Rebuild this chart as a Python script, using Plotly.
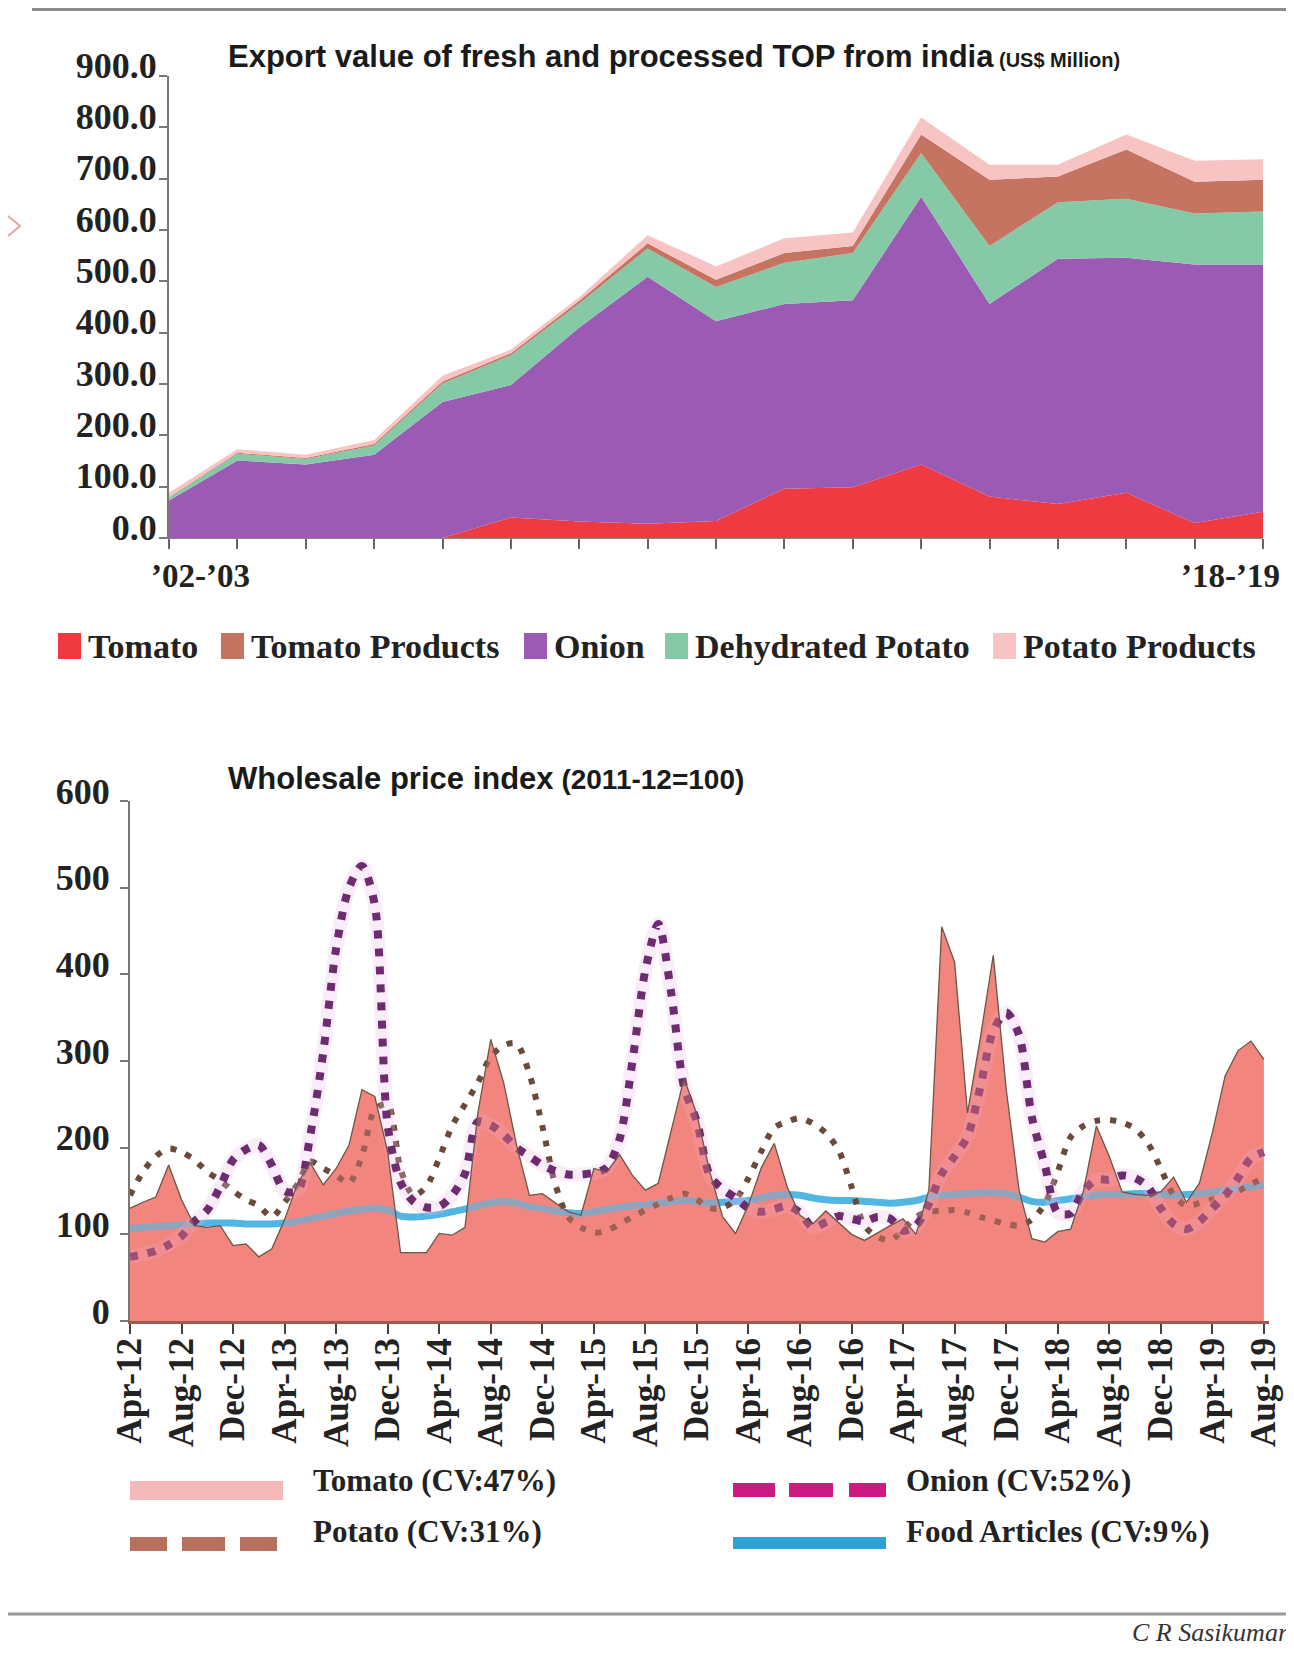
import plotly.graph_objects as go

W, H = 1294, 1653
OFF = 8  # page body margin offset
def px(x): return (x - OFF) / W
def py(y): return 1 - (y - OFF) / H

# ---------------- Top chart data (US$ Million) ----------------
years = ["’02-’03", "’03-’04", "’04-’05", "’05-’06", "’06-’07", "’07-’08", "’08-’09",
         "’09-’10", "’10-’11", "’11-’12", "’12-’13", "’13-’14", "’14-’15", "’15-’16",
         "’16-’17", "’17-’18", "’18-’19"]
tomato_exp = [0, 0, 0, 0, 0, 40, 32, 28, 33, 96, 99, 143, 81, 66, 88, 29, 51]
onion_exp = [73, 151, 143, 162, 265, 258, 378, 481, 389, 360, 364, 522, 375, 478, 458, 504, 482]
dehyd_potato_exp = [6, 13, 11, 18, 36, 58, 47, 55, 67, 80, 92, 85, 113, 110, 115, 99, 103]
tomato_prod_exp = [1, 2, 2, 3, 4, 4, 5, 10, 14, 19, 14, 36, 129, 50, 96, 62, 62]
potato_prod_exp = [8, 7, 6, 8, 11, 7, 7, 16, 26, 29, 26, 33, 29, 23, 29, 41, 40]
top_yticks = [0, 100, 200, 300, 400, 500, 600, 700, 800, 900]
top_yticktext = ["0.0", "100.0", "200.0", "300.0", "400.0", "500.0", "600.0", "700.0", "800.0", "900.0"]

# ---------------- Bottom chart data (WPI, 2011-12=100), Apr-12 .. Aug-19 ----------------
months = list(range(89))
wpi_tomato = [130, 137, 143, 180, 140, 110, 108, 110, 87, 89,
              74, 83, 117, 159, 182, 157, 176, 203, 267, 259,
              195, 79, 79, 79, 101, 99, 108, 240, 325,
              275, 203, 145, 147, 137, 126, 122, 176, 172, 192,
              168, 151, 159, 218, 280, 238, 172, 120, 101, 134,
              177, 205, 155, 122, 112, 127, 114, 100, 93, 102,
              110,
              118, 100, 151, 455, 414, 240, 327, 422, 268, 151,
              95, 91, 103, 106, 150, 225, 190, 149, 146, 145,
              149, 166, 137, 159, 217, 283, 312, 323, 302]
wpi_onion = [74, 77, 81, 88, 98, 115, 128, 155, 186, 198,
             203, 180, 150, 150, 215, 310, 430, 500, 525, 480,
             225, 160, 138, 131, 132, 145, 170, 230, 226,
             215, 200, 190, 180, 173, 169, 169, 171, 177, 210,
             300, 405, 458, 379, 270, 230, 168, 152, 142, 130,
             126, 129, 133, 125, 108, 114, 121, 118, 115, 120,
             118,
             104, 110, 135, 170, 190, 213, 270, 335, 356, 330,
             235, 180, 125, 124, 150, 163, 163, 168, 165, 155,
             130, 112, 106, 115, 130, 145, 165, 188, 195]
wpi_potato = [145, 172, 190, 199, 195, 186, 172, 162, 150, 140,
              133, 120, 137, 158, 184, 176, 168, 159, 190, 244,
              250, 175, 145, 155, 188, 225, 250, 275, 305,
              318, 320, 285, 225, 158, 120, 108, 102, 104, 112,
              120, 128, 135, 142, 147, 140, 130, 131, 140, 165,
              196, 223, 230, 234, 228, 217, 197, 155, 110, 97,
              93,
              105, 120, 126, 127, 128, 125, 120, 116, 112, 110,
              117, 135, 172, 212, 225, 231, 232, 229, 222, 205,
              176, 145, 133, 136, 140, 145, 150, 158, 165]
wpi_food = [107, 108, 109, 110, 111, 112, 113, 113, 113, 112,
            112, 112, 113, 115, 118, 121, 124, 127, 129, 130,
            128, 121, 120, 121, 123, 126, 129, 133, 136,
            138, 136, 132, 130, 127, 125, 124, 126, 129, 131,
            133, 134, 136, 138, 139, 138, 136, 137, 138, 139,
            142, 145, 146, 145, 142, 140, 139, 139, 138, 137,
            136,
            137, 139, 143, 145, 146, 147, 148, 148, 147, 143,
            138, 137, 139, 141, 143, 145, 146, 146, 147, 147,
            146, 145, 146, 147, 149, 151, 153, 155, 157]
bottom_xtickvals = list(range(0, 89, 4))
bottom_xticktext = ["Apr-12", "Aug-12", "Dec-12", "Apr-13", "Aug-13", "Dec-13", "Apr-14", "Aug-14",
                    "Dec-14", "Apr-15", "Aug-15", "Dec-15", "Apr-16", "Aug-16", "Dec-16", "Apr-17",
                    "Aug-17", "Dec-17", "Apr-18", "Aug-18", "Dec-18", "Apr-19", "Aug-19"]
bottom_yticks = [0, 100, 200, 300, 400, 500, 600]

SERIF = "Liberation Serif, Times New Roman, serif"
SANS = "Liberation Sans Narrow, Liberation Sans, Arial, sans-serif"

fig = go.Figure()

# ---------------- Top stacked area ----------------
xi = list(range(len(years)))
top_series = [
    ("Tomato", tomato_exp, "#EE3A40"),
    ("Onion", onion_exp, "#9B5BB4"),
    ("Dehydrated Potato", dehyd_potato_exp, "#86C9A6"),
    ("Tomato Products", tomato_prod_exp, "#C47461"),
    ("Potato Products", potato_prod_exp, "#F8C3C3"),
]
for name, vals, col in top_series:
    fig.add_trace(go.Scatter(x=xi, y=vals, name=name, stackgroup="exp", mode="lines",
                             line=dict(width=0, color=col), fillcolor=col,
                             xaxis="x", yaxis="y", showlegend=False, hoverinfo="x+y+name"))

# ---------------- Bottom WPI chart ----------------
fig.add_trace(go.Scatter(x=months, y=wpi_tomato, fill="tozeroy", mode="lines",
                         fillcolor="#F3867F", line=dict(width=0, color="#F3867F"),
                         xaxis="x2", yaxis="y2", showlegend=False, name="Tomato"))
fig.add_trace(go.Scatter(x=months, y=wpi_food, mode="lines", name="Food Articles",
                         line=dict(color="#52B6E4", width=7, shape="spline", smoothing=0.8),
                         xaxis="x2", yaxis="y2", showlegend=False))
fig.add_trace(go.Scatter(x=months, y=wpi_potato, mode="lines", name="Potato",
                         line=dict(color="#6B4A3B", width=6, dash="6px,10px", shape="spline", smoothing=0.8),
                         xaxis="x2", yaxis="y2", showlegend=False))
fig.add_trace(go.Scatter(x=months, y=wpi_onion, mode="lines", name="Onion halo",
                         line=dict(color="rgba(240,185,235,0.28)", width=14, shape="spline", smoothing=0.8),
                         xaxis="x2", yaxis="y2", showlegend=False, hoverinfo="skip"))
fig.add_trace(go.Scatter(x=months, y=wpi_onion, mode="lines", name="Onion",
                         line=dict(color="#6E2C70", width=8, dash="8px,10px", shape="spline", smoothing=0.8),
                         xaxis="x2", yaxis="y2", showlegend=False))
fig.add_trace(go.Scatter(x=months, y=wpi_tomato, fill="tozeroy", mode="lines",
                         fillcolor="rgba(243,134,127,0.38)", line=dict(width=1.3, color="#6E5546"),
                         xaxis="x2", yaxis="y2", showlegend=False, name="Tomato", hoverinfo="skip"))

axis_common = dict(showgrid=False, zeroline=False, ticks="outside", fixedrange=True, automargin=False)

fig.update_layout(
    width=W, height=H, margin=dict(l=0, r=0, t=0, b=0, pad=0, autoexpand=False),
    paper_bgcolor="white", plot_bgcolor="white",
    xaxis=dict(domain=[px(169), px(1263)], range=[0, 16], tickvals=xi, showticklabels=False,
               ticklen=10, tickwidth=2, tickcolor="#666", showline=True, linecolor="#888",
               linewidth=1, anchor="y", **axis_common),
    yaxis=dict(domain=[py(538), py(76)], range=[0, 900], tickvals=top_yticks, ticktext=top_yticktext,
               ticklen=8, tickwidth=2, tickcolor="#777", showline=True, linecolor="#777", linewidth=2,
               tickfont=dict(family=SERIF, size=36, color="#222", weight="bold"),
               ticklabelshift=-11, ticklabelstandoff=-5, anchor="x", **axis_common),
    xaxis2=dict(domain=[px(130), px(1269)], range=[0, 88.4], tickvals=bottom_xtickvals,
                ticktext=bottom_xticktext, tickangle=-90, ticklen=10, tickwidth=2, tickcolor="#444",
                showline=True, linecolor="#9C5A50", linewidth=3, ticklabelstandoff=-10,
                tickfont=dict(family=SERIF, size=35, color="#222", weight="bold"),
                anchor="y2", **axis_common),
    yaxis2=dict(domain=[py(1321), py(801)], range=[0, 600], tickvals=bottom_yticks,
                ticklen=8, tickwidth=2, tickcolor="#777", showline=True, linecolor="#777", linewidth=2,
                tickfont=dict(family=SERIF, size=36, color="#222", weight="bold"),
                ticklabelshift=-10, ticklabelstandoff=3, anchor="x2", **axis_common),
)

shapes = []
annotations = []

# frame lines
shapes.append(dict(type="line", xref="paper", yref="paper", x0=px(32), x1=px(1294), y0=py(9.6), y1=py(9.6),
                   line=dict(color="#8C8C8C", width=3)))
shapes.append(dict(type="line", xref="paper", yref="paper", x0=px(0), x1=px(1294), y0=py(1614), y1=py(1614),
                   line=dict(color="#9A9A9A", width=3)))
# small clipped arrow fragment at left edge
shapes.append(dict(type="path", xref="paper", yref="paper",
                   path=f"M {px(8)} {py(216)} L {px(20)} {py(226)} L {px(8)} {py(236)}",
                   line=dict(color="#E6A3A3", width=2)))

# titles
annotations.append(dict(xref="paper", yref="paper", x=px(226), y=py(56), xanchor="left", yanchor="middle",
                        text="Export value of fresh and processed TOP from india"
                             "<span style='font-size:20px'> (US$ Million)</span>",
                        showarrow=False, font=dict(family=SANS, size=31, color="#1A1A1A", weight="bold")))
annotations.append(dict(xref="paper", yref="paper", x=px(226), y=py(778), xanchor="left", yanchor="middle",
                        text="Wholesale price index<span style='font-size:28px'> (2011-12=100)</span>",
                        showarrow=False, font=dict(family=SANS, size=31, color="#1A1A1A", weight="bold")))

# top x labels (first and last year)
annotations.append(dict(xref="paper", yref="paper", x=px(200), y=py(576), xanchor="center", yanchor="middle",
                        text=years[0], showarrow=False,
                        font=dict(family=SERIF, size=33, color="#222", weight="bold")))
annotations.append(dict(xref="paper", yref="paper", x=px(1230), y=py(576), xanchor="center", yanchor="middle",
                        text=years[-1], showarrow=False,
                        font=dict(family=SERIF, size=33, color="#222", weight="bold")))

# top legend
top_legend = [("Tomato", "#EE3A40", 58), ("Tomato Products", "#C47461", 221), ("Onion", "#9B5BB4", 524),
              ("Dehydrated Potato", "#86C9A6", 665), ("Potato Products", "#F8C3C3", 993)]
for name, col, x0 in top_legend:
    shapes.append(dict(type="rect", xref="paper", yref="paper", x0=px(x0), x1=px(x0 + 23),
                       y0=py(659), y1=py(633), fillcolor=col, line=dict(width=0)))
    annotations.append(dict(xref="paper", yref="paper", x=px(x0 + 28), y=py(646), xanchor="left",
                            yanchor="middle", text=name, showarrow=False,
                            font=dict(family=SERIF, size=34, color="#222", weight="bold")))

# bottom legend
shapes.append(dict(type="rect", xref="paper", yref="paper", x0=px(130), x1=px(283), y0=py(1500), y1=py(1481),
                   fillcolor="#F6B9B9", line=dict(width=0)))
for a, b in [(130, 167), (182, 225), (240, 277)]:
    shapes.append(dict(type="rect", xref="paper", yref="paper", x0=px(a), x1=px(b), y0=py(1551), y1=py(1537),
                       fillcolor="#B8705E", line=dict(width=0)))
for a, b in [(733, 775), (789, 833), (849, 886)]:
    shapes.append(dict(type="rect", xref="paper", yref="paper", x0=px(a), x1=px(b), y0=py(1497), y1=py(1483),
                       fillcolor="#CC1A80", line=dict(width=0)))
shapes.append(dict(type="rect", xref="paper", yref="paper", x0=px(733), x1=px(886), y0=py(1549), y1=py(1537),
                   fillcolor="#2EA2D6", line=dict(width=0)))
for text, x, y in [("Tomato (CV:47%)", 311, 1480), ("Potato (CV:31%)", 311, 1531),
                   ("Onion (CV:52%)", 904, 1480), ("Food Articles (CV:9%)", 904, 1531)]:
    annotations.append(dict(xref="paper", yref="paper", x=px(x), y=py(y), xanchor="left", yanchor="middle",
                            text=text, showarrow=False,
                            font=dict(family=SERIF, size=31, color="#222", weight="bold")))

# credit
annotations.append(dict(xref="paper", yref="paper", x=px(1291), y=py(1632), xanchor="right", yanchor="middle",
                        text="C R Sasikumar", showarrow=False,
                        font=dict(family=SERIF, size=26, color="#333", style="italic")))

fig.update_layout(shapes=shapes, annotations=annotations)
fig.write_html("out.html")
